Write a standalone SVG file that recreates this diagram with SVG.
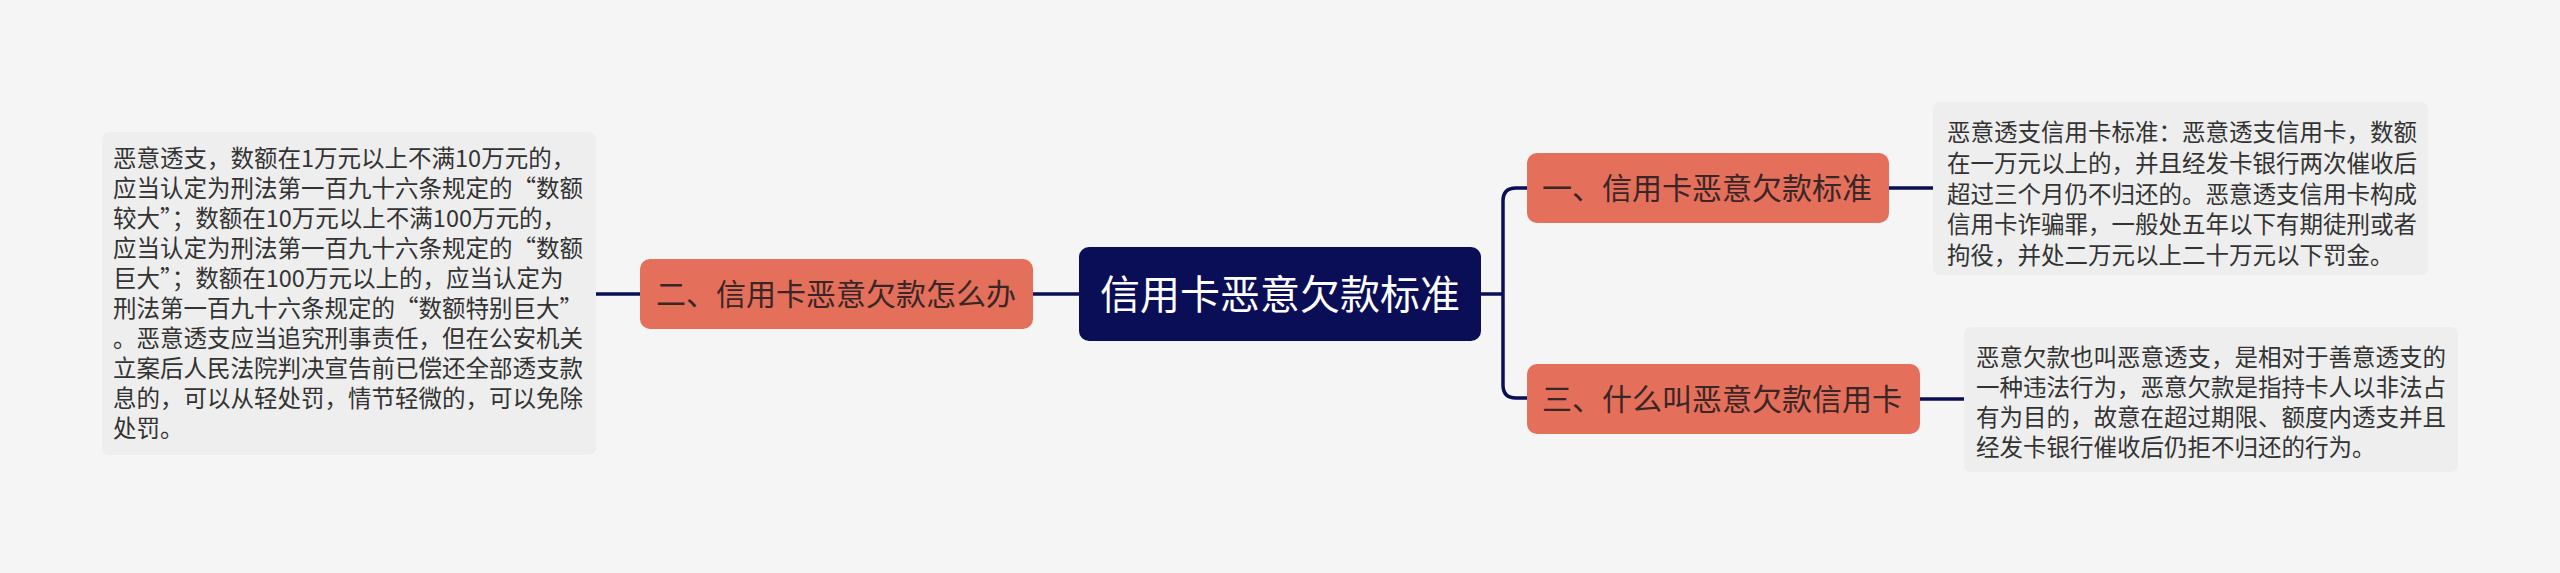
<svg xmlns="http://www.w3.org/2000/svg" width="2560" height="573" viewBox="0 0 2560 573">
<style>
.leafbox{fill:#eeeeee;}
.leaf{font-family:"Noto Sans CJK SC","Noto Sans",sans-serif;font-size:23.5px;fill:#333333;}
.sub{fill:#e46f5a;}
.subt{font-family:"Noto Sans CJK SC","Noto Sans",sans-serif;font-size:30px;fill:#3a2626;}
.root{fill:#0a0e56;}
.roott{font-family:"Noto Sans CJK SC","Noto Sans",sans-serif;font-size:40px;fill:#ffffff;}
.conn{fill:none;stroke:#0a0e56;stroke-width:3.5;}
</style>
<rect width="2560" height="573" fill="#f5f5f5"/>
<g id="connectors">
<path class="conn" d="M596 294 H640"/>
<path class="conn" d="M1033 294 H1079"/>
<path class="conn" d="M1481 294 H1503"/>
<path class="conn" d="M1527 188 H1516 Q1503 188 1503 201 V385 Q1503 398 1516 398 H1527"/>
<path class="conn" d="M1889 188 H1933"/>
<path class="conn" d="M1920 399 H1964"/>
</g>
<g id="root">
<rect class="root" x="1079" y="247" width="402" height="94" rx="10"/>
<text class="roott" x="1280" y="309" text-anchor="middle">信用卡恶意欠款标准</text>
</g>
<g id="node-2">
<rect class="sub" x="640" y="259" width="393" height="70" rx="10"/>
<text class="subt" x="656" y="305">二、信用卡恶意欠款怎么办</text>
</g>
<g id="node-1">
<rect class="sub" x="1527" y="153" width="362" height="70" rx="10"/>
<text class="subt" x="1542" y="199">一、信用卡恶意欠款标准</text>
</g>
<g id="node-3">
<rect class="sub" x="1527" y="364" width="393" height="70" rx="10"/>
<text class="subt" x="1542" y="410">三、什么叫恶意欠款信用卡</text>
</g>
<g id="leaf-2">
<rect class="leafbox" x="102" y="132" width="494" height="323" rx="7"/>
<text class="leaf">
<tspan x="113" y="167">恶意透支，数额在1万元以上不满10万元的，</tspan>
<tspan x="113" y="197">应当认定为刑法第一百九十六条规定的“数额</tspan>
<tspan x="113" y="227">较大”；数额在10万元以上不满100万元的，</tspan>
<tspan x="113" y="257">应当认定为刑法第一百九十六条规定的“数额</tspan>
<tspan x="113" y="287">巨大”；数额在100万元以上的，应当认定为</tspan>
<tspan x="113" y="317">刑法第一百九十六条规定的“数额特别巨大”</tspan>
<tspan x="113" y="347">。恶意透支应当追究刑事责任，但在公安机关</tspan>
<tspan x="113" y="377">立案后人民法院判决宣告前已偿还全部透支款</tspan>
<tspan x="113" y="407">息的，可以从轻处罚，情节轻微的，可以免除</tspan>
<tspan x="113" y="437">处罚。</tspan>
</text>
</g>
<g id="leaf-1">
<rect class="leafbox" x="1933" y="102" width="495" height="173" rx="7"/>
<text class="leaf">
<tspan x="1947" y="141">恶意透支信用卡标准：恶意透支信用卡，数额</tspan>
<tspan x="1947" y="171.75">在一万元以上的，并且经发卡银行两次催收后</tspan>
<tspan x="1947" y="202.5">超过三个月仍不归还的。恶意透支信用卡构成</tspan>
<tspan x="1947" y="233.25">信用卡诈骗罪，一般处五年以下有期徒刑或者</tspan>
<tspan x="1947" y="264">拘役，并处二万元以上二十万元以下罚金。</tspan>
</text>
</g>
<g id="leaf-3">
<rect class="leafbox" x="1964" y="327" width="494" height="145" rx="7"/>
<text class="leaf">
<tspan x="1976" y="366">恶意欠款也叫恶意透支，是相对于善意透支的</tspan>
<tspan x="1976" y="396">一种违法行为，恶意欠款是指持卡人以非法占</tspan>
<tspan x="1976" y="426">有为目的，故意在超过期限、额度内透支并且</tspan>
<tspan x="1976" y="456">经发卡银行催收后仍拒不归还的行为。</tspan>
</text>
</g>
</svg>
